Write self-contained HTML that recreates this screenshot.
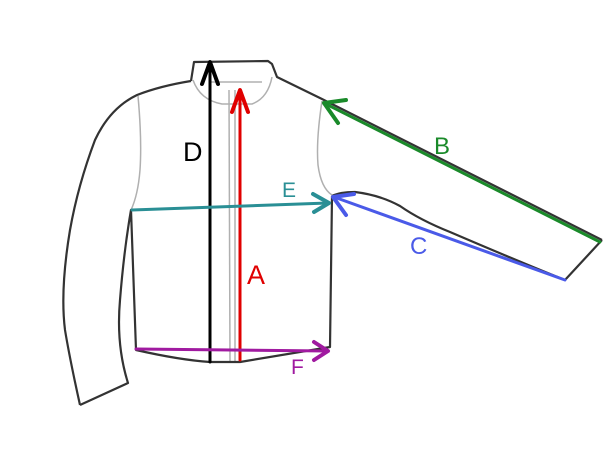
<!DOCTYPE html>
<html><head><meta charset="utf-8"><style>
html,body{margin:0;padding:0;background:#fff;width:615px;height:472px;overflow:hidden}
svg{display:block}
text{font-family:"Liberation Sans","DejaVu Sans",sans-serif}
</style></head><body>
<svg width="615" height="472" viewBox="0 0 615 472" xmlns="http://www.w3.org/2000/svg">
<rect width="615" height="472" fill="#fff"/>
<g fill="none" stroke="#b0b0b0" stroke-width="1.5">
<path d="M138,96 Q142,140 140,170 Q138,195 131,210"/>
<path d="M322,101 Q316,140 318,165 Q321,188 332,195"/>
<path d="M229,90 L230,362"/>
<path d="M235,90 L235,362"/>
<path d="M193,80 Q200,100 222,104 L252,104 Q268,98 272,77"/>
<path d="M209,82 L262,82"/>
</g>
<g fill="none" stroke="#333" stroke-width="2.2" stroke-linejoin="round">
<path d="M191,81 L194,62 L268,61 L272,64 L277,77 L322,99 L602,240"/>
<path d="M191,81 Q160,86 137,95 Q110,108 95,140 Q78,185 70,230 Q60,290 65,330 Q70,360 80,405"/>
<path d="M80,405 L128,383 Q116,345 120,300 Q124,250 131,210 L136,350 Q180,360 210,362 L240,362 L330,347 L332,196"/>
<path d="M332,196 Q340,192 355,192 Q380,195 400,206 Q420,220 450,232 Q520,262 565,280 L602,240"/>
</g>
<g fill="none" stroke-width="3" stroke-linecap="round" stroke-linejoin="round">
<line x1="210" y1="362" x2="210" y2="62" stroke="#000"/>
<polyline points="202,84 210,62 218,84" stroke="#000" stroke-width="4"/>
<line x1="240" y1="360" x2="240" y2="90" stroke="#e00000"/>
<polyline points="232,112 240,90 248,112" stroke="#e00000" stroke-width="4"/>
<line x1="132" y1="210" x2="328" y2="203" stroke="#2a8f95"/>
<polyline points="313,194 329,203 314,212" stroke="#2a8f95" stroke-width="4"/>
<line x1="136" y1="349" x2="328" y2="351" stroke="#a01aa0"/>
<polyline points="314,342 328,351 314,360" stroke="#a01aa0" stroke-width="4"/>
<line x1="600" y1="242" x2="324" y2="103" stroke="#1a8a2a"/>
<polyline points="346,100 324,103 338,123" stroke="#1a8a2a" stroke-width="4"/>
<line x1="565" y1="280" x2="334" y2="197" stroke="#4a5ae8"/>
<polyline points="354,194 333,197 346,215" stroke="#4a5ae8" stroke-width="4"/>
</g>
<text x="183" y="161" font-size="27" fill="#000">D</text>
<text x="247" y="284" font-size="27" fill="#e00000">A</text>
<text x="282" y="197" font-size="21" fill="#2a8f95">E</text>
<text x="434" y="154" font-size="24" fill="#1a8a2a">B</text>
<text x="410" y="254" font-size="24" fill="#4a5ae8">C</text>
<text x="291" y="374" font-size="21" fill="#a01aa0">F</text>
</svg>
</body></html>
